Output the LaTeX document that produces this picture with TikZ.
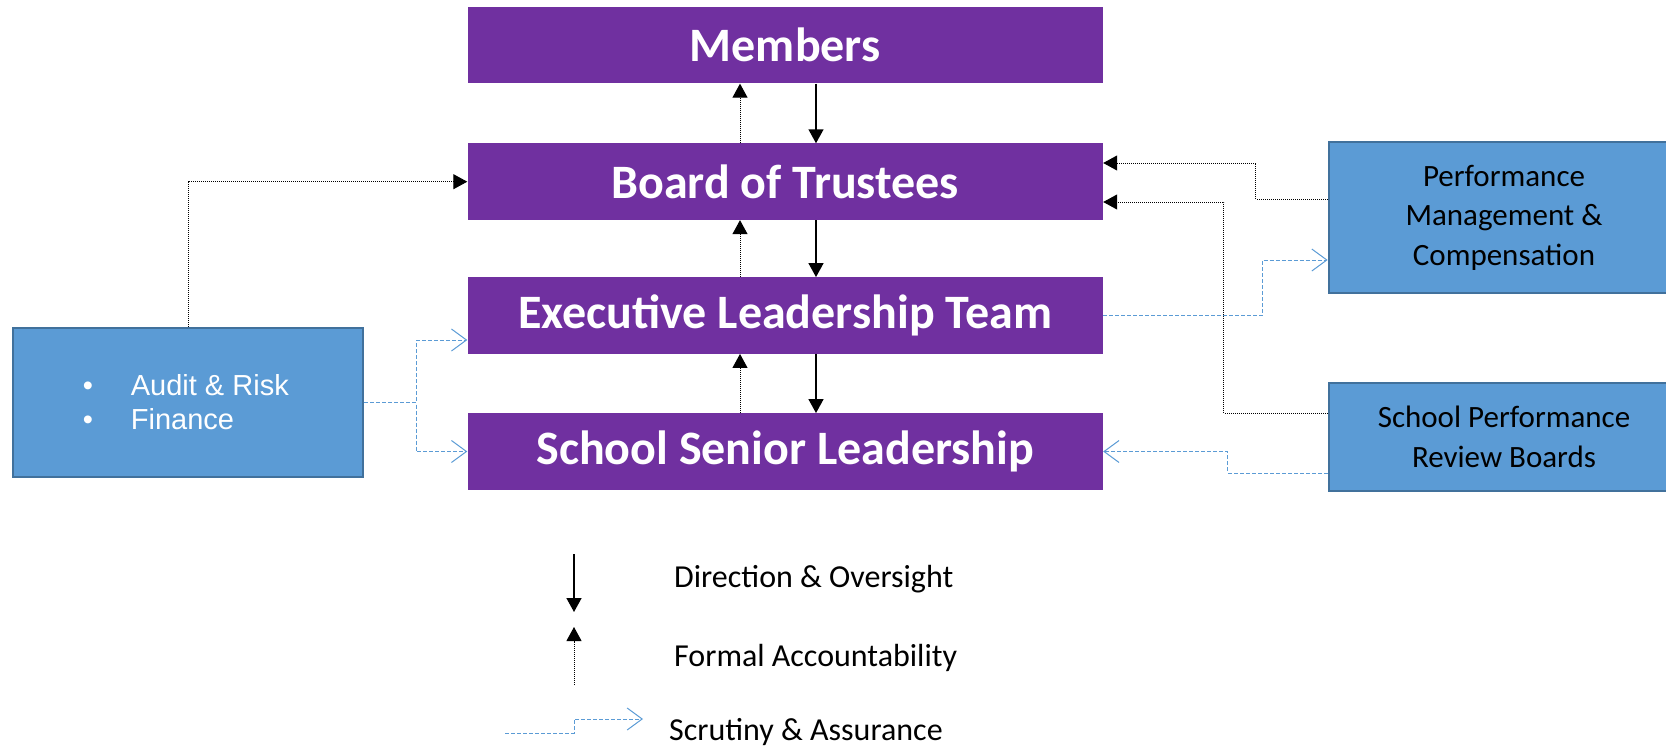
\documentclass[tikz,border=0pt]{standalone}
\usepackage{fontspec}
\setmainfont{Carlito}
\newfontfamily\arialfont{Liberation Sans}
\usetikzlibrary{arrows.meta}
\definecolor{tierpurple}{HTML}{7030A0}
\definecolor{sideblue}{HTML}{5B9BD5}
\definecolor{sideedge}{HTML}{41719C}
\tikzset{
    tier/.style={fill=tierpurple, text=white, font=\fontsize{48}{56}\selectfont\bfseries,
        minimum width=635.5pt, minimum height=76.5pt, inner sep=0pt},
    sidebox/.style={fill=sideblue, draw=sideedge, line width=2.7pt, inner sep=0pt,
        font=\fontsize{31}{39.5}\selectfont, align=center},
    legendtext/.style={font=\fontsize{32}{38}\selectfont, anchor=west, inner sep=0pt},
    oversight/.style={line width=1.5pt, -{Triangle[width=15pt,length=14pt]}},
    account/.style={line width=1pt, dash pattern=on 1pt off 1pt, -{Triangle[width=15pt,length=14pt]}},
    scrutiny/.style={draw=sideblue, line width=1pt, dash pattern=on 4pt off 2pt,
        -{Straight Barb[length=15pt,width=22pt]}},
}
\begin{document}
\begin{tikzpicture}[x=1pt,y=-1pt]
    \useasboundingbox (0,0) rectangle (1666,750);
    % governance tiers
    \node[tier] (members) at (785.25,45.2) {Members};
    \node[tier] (board) at (785.25,181.7) {Board of Trustees};
    \node[tier] (elt) at (785.25,315.5) {Executive Leadership Team};
    \node[tier] (ssl) at (785.25,451.5) {School Senior Leadership};
    % committees
    \node[sidebox, minimum width=350pt, minimum height=149pt] (audit) at (188,402.5) {};
    \node[font=\arialfont\fontsize{29}{34}\selectfont, text=white, align=left, inner sep=0pt,
        anchor=west] (audittext) at ([xshift=71pt]audit.west)
        {\makebox[48pt][l]{•}Audit \& Risk\\\makebox[48pt][l]{•}Finance};
    \node[sidebox, minimum width=350pt, minimum height=151pt] (pmc) at (1504,217.5)
        {Performance\\Management \&\\Compensation};
    \node[sidebox, minimum width=350pt, minimum height=108pt] (sprb)
        at (1504,437) {School Performance\\Review Boards};
    % tier arrows
    \foreach \a/\b in {members/board, board/elt, elt/ssl}{
        \draw[oversight] ([xshift=30.75pt]\a.south) -- ([xshift=30.75pt]\b.north);
        \draw[account] ([xshift=-45.25pt]\b.north) -- ([xshift=-45.25pt]\a.south);
    }
    % committee links
    \draw[account] (audit.north) |- (board.west);
    \draw[scrutiny] (audit.east) -- ++(52,0) |- ([yshift=-24.5pt]elt.west);
    \draw[scrutiny] (audit.east) -- ++(52,0) |- (ssl.west);
    \draw[account] ([yshift=18.5pt]pmc.west) -- ++(-72,0) |- ([yshift=18.7pt]board.east);
    \draw[account] ([yshift=24pt]sprb.west) -- ++(-104,0) |- ([yshift=-20.3pt]board.east);
    \draw[scrutiny] (elt.east) -- ++(159,0) |- ([yshift=-42.5pt]pmc.west);
    \draw[scrutiny] ([yshift=-36pt]sprb.west) -- ++(-100,0) |- (ssl.east);
    % legend
    \coordinate (keydowna) at (574,554);
    \coordinate (keydownb) at (574,612);
    \coordinate (keyupa) at (574,685);
    \coordinate (keyupb) at (574,627);
    \coordinate (keyscra) at (505,733);
    \coordinate (keyscrb) at (643,719);
    \draw[oversight] (keydowna) -- (keydownb);
    \draw[account] (keyupa) -- (keyupb);
    \draw[scrutiny] (keyscra) -- (574,733) |- (keyscrb);
    \node[legendtext] (keydown) at (674,579) {Direction \& Oversight};
    \node[legendtext] (keyup) at (674,658) {Formal Accountability};
    \node[legendtext] (keyscr) at (669,732) {Scrutiny \& Assurance};
\end{tikzpicture}
\end{document}
